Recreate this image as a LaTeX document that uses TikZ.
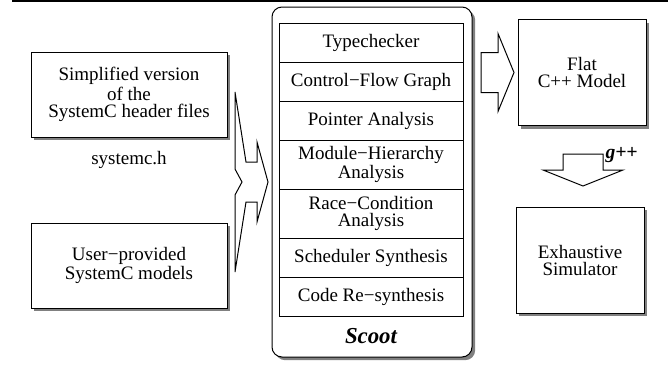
\documentclass[tikz,border=0pt]{standalone}
\usepackage{fontspec}
\setmainfont{Liberation Serif}
\usetikzlibrary{positioning,calc,shadows}

\begin{document}
\begin{tikzpicture}[
    x=0.5pt, y=-0.5pt, line width=0.5pt,
    font=\fontsize{9.5}{8.5}\selectfont,
    box/.style={draw,fill=white,align=center,outer sep=0pt,
      general shadow={fill=black!50,shadow xshift=1.6pt,shadow yshift=-1.6pt}},
    src/.style={box,minimum width=98pt,minimum height=42.5pt},
    result/.style={box,minimum width=64pt,minimum height=53pt},
    pass/.style={draw,fill=white,align=center,outer sep=0pt,inner sep=1pt,
      minimum width=92pt,minimum height=19.5pt},
    pass2/.style={pass,minimum height=24.5pt},
    blk/.style={draw,fill=white,line join=miter},
    lbl/.style={font=\fontsize{11.4}{13}\selectfont\bfseries\itshape},
  ]
  \useasboundingbox (0,0) rectangle (670,381);
  \draw[line width=0.8pt] (12,1) -- (668,1);

  % inputs
  \node[src] (hdr) at (129,94.5) {Simplified version\\of the\\SystemC header files};
  \node (hfile) at (129,160) {systemc.h};
  \node[src] (user) at (129,265.5) {User−provided\\SystemC models};

  % the tool and its passes
  \node[box,rounded corners=5pt,minimum width=100pt,minimum height=175pt] (scoot) at (372,182) {};
  \node[pass,anchor=north] (tc) at (371,23) {Typechecker};
  \node[pass,below=0pt of tc] (cfg) {Control−Flow Graph};
  \node[pass,below=0pt of cfg] (ptr) {Pointer Analysis};
  \node[pass2,below=0pt of ptr] (mod) {Module−Hierarchy\\Analysis};
  \node[pass2,below=0pt of mod] (race) {Race−Condition\\Analysis};
  \node[pass,below=0pt of race] (sched) {Scheduler Synthesis};
  \node[pass,below=0pt of sched] (resyn) {Code Re−synthesis};
  \node[lbl,below=2.5pt of resyn] (scootlbl) {Scoot};

  % outputs
  \node[result] (flat) at (582,72.5) {Flat\\C++ Model};
  \node[result] (sim) at (580,260) {Exhaustive\\Simulator};

  % block arrows
  \coordinate (mtip) at ($(scoot.west)+(-4,0)$);
  \draw[blk] (mtip) -- ++(-11,-40) -- ++(0,20) -- ++(-11,0) -- ++(-11,-70)
    -- ++(0,77) -- ++(7,13) -- ++(-7,13) -- ++(0,77) -- ++(11,-70)
    -- ++(11,0) -- ++(0,20) -- cycle;
  \coordinate (rtip) at ($(flat.west)+(-4,0)$);
  \draw[blk] (rtip) -- ++(-16,-39) -- ++(0,19) -- ++(-17,0) -- ++(0,40)
    -- ++(17,0) -- ++(0,19) -- cycle;
  \coordinate (dtip) at ($(sim.north)+(3,-21)$);
  \draw[blk] (dtip) -- ++(-40,-16) -- ++(20,0) -- ++(0,-16) -- ++(40,0)
    -- ++(0,16) -- ++(20,0) -- cycle;
  \node[lbl,font=\fontsize{9.8}{11}\selectfont\bfseries\itshape,anchor=base west,inner sep=0pt]
    (gpp) at ($(dtip)+(22,-28)$) {g++};
\end{tikzpicture}
\end{document}
